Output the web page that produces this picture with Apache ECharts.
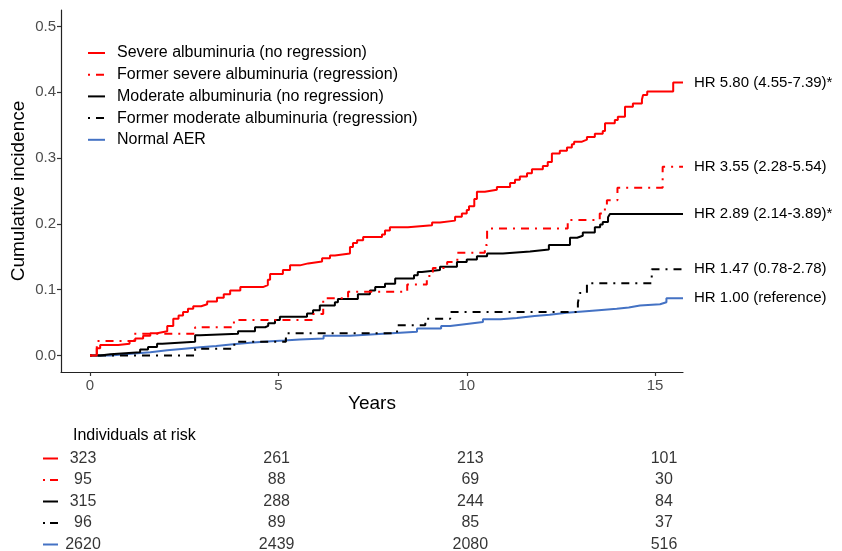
<!DOCTYPE html>
<html><head><meta charset="utf-8">
<script src="https://cdn.jsdelivr.net/npm/echarts@6/dist/echarts.min.js"></script>
<style>html,body{margin:0;padding:0;background:#fff}#c{width:842px;height:551px}</style>
</head><body><div id="c"></div>
<script>
// ---------- data ----------
const seriesNames = [
  'Severe albuminuria (no regression)',
  'Former severe albuminuria (regression)',
  'Moderate albuminuria (no regression)',
  'Former moderate albuminuria (regression)',
  'Normal AER'
];
const hrLabels = [
  'HR 5.80 (4.55-7.39)*',
  'HR 3.55 (2.28-5.54)',
  'HR 2.89 (2.14-3.89)*',
  'HR 1.47 (0.78-2.78)',
  'HR 1.00 (reference)'
];
// [years, cumulative incidence]
const severeNoReg = [[0,0],[0.18,0.011],[0.27,0.016],[0.75,0.018],[1.05,0.022],[1.2,0.026],[1.41,0.03],[1.6,0.034],[1.78,0.037],[2.05,0.045],[2.21,0.056],[2.35,0.061],[2.47,0.066],[2.6,0.071],[2.74,0.075],[2.95,0.078],[3.11,0.082],[3.37,0.088],[3.55,0.093],[3.72,0.099],[3.99,0.104],[4.59,0.107],[4.72,0.115],[4.78,0.124],[5.12,0.13],[5.31,0.137],[5.57,0.14],[5.79,0.143],[6.16,0.148],[6.37,0.152],[6.5,0.155],[6.9,0.165],[6.98,0.171],[7.09,0.175],[7.25,0.18],[7.75,0.184],[7.83,0.19],[7.96,0.195],[8.44,0.198],[9.08,0.202],[9.29,0.205],[9.69,0.211],[9.87,0.216],[10.0,0.221],[10.06,0.227],[10.2,0.238],[10.27,0.249],[10.48,0.252],[10.8,0.256],[11.15,0.262],[11.28,0.267],[11.41,0.272],[11.6,0.277],[11.73,0.283],[12.02,0.288],[12.15,0.294],[12.26,0.307],[12.47,0.311],[12.66,0.316],[12.79,0.321],[12.85,0.325],[13.06,0.328],[13.19,0.332],[13.4,0.337],[13.61,0.341],[13.67,0.353],[13.93,0.358],[14.01,0.363],[14.2,0.378],[14.41,0.383],[14.65,0.389],[14.68,0.396],[14.79,0.401],[15.48,0.415],[15.74,0.415]];
const formerSevere = [[0,0],[0.18,0.022],[1.17,0.033],[2.79,0.043],[3.82,0.054],[5.93,0.063],[6.19,0.087],[6.85,0.097],[8.42,0.108],[8.94,0.121],[9.1,0.133],[9.48,0.142],[9.75,0.156],[10.48,0.168],[10.54,0.193],[12.68,0.206],[13.53,0.216],[13.6,0.222],[13.72,0.236],[14.0,0.255],[15.2,0.287],[15.74,0.287]];
const moderateNoReg = [[0,0],[0.27,0.002],[0.54,0.005],[1.33,0.009],[1.54,0.013],[1.78,0.018],[1.92,0.021],[2.79,0.031],[2.92,0.033],[3.93,0.037],[4.38,0.043],[4.65,0.045],[4.73,0.049],[4.91,0.054],[5.04,0.059],[5.76,0.064],[5.92,0.069],[6.1,0.076],[6.5,0.081],[6.58,0.086],[7.11,0.093],[7.43,0.099],[7.57,0.104],[7.83,0.109],[8.1,0.117],[8.6,0.122],[8.7,0.127],[8.81,0.13],[9.29,0.135],[9.74,0.142],[10.0,0.146],[10.27,0.151],[10.54,0.155],[10.96,0.158],[11.68,0.161],[12.18,0.168],[12.74,0.179],[12.93,0.182],[13.08,0.187],[13.4,0.195],[13.54,0.199],[13.61,0.203],[13.75,0.21],[13.8,0.215],[15.74,0.215]];
const formerModerate = [[0,0],[2.79,0.0104],[3.83,0.021],[5.2,0.034],[8.15,0.046],[8.9,0.056],[9.56,0.066],[12.95,0.08],[13.0,0.095],[13.19,0.11],[14.91,0.131],[15.74,0.131]];
const normalAER = [[0,0],[0.54,0.003],[1.17,0.005],[1.6,0.008],[2.05,0.0105],[2.5,0.0125],[2.92,0.0145],[3.35,0.017],[3.8,0.0196],[4.25,0.0215],[4.7,0.023],[5.15,0.0245],[5.57,0.026],[6.2,0.03],[6.9,0.033],[7.78,0.036],[8.68,0.041],[9.32,0.045],[9.56,0.048],[10.0,0.051],[10.43,0.055],[10.9,0.057],[11.33,0.06],[11.8,0.062],[12.2,0.065],[12.65,0.067],[13.08,0.069],[13.5,0.071],[13.98,0.073],[14.3,0.076],[14.6,0.078],[15.13,0.081],[15.3,0.087],[15.74,0.087]];

const riskTimes = [0, 5, 10, 15];
const riskSevere = [323, 261, 213, 101];
const riskFormerSevere = [95, 88, 69, 30];
const riskModerate = [315, 288, 244, 84];
const riskFormerModerate = [96, 89, 85, 37];
const riskNormal = [2620, 2439, 2080, 516];

const yTicks = [0, 0.1, 0.2, 0.3, 0.4, 0.5];
const xTicks = [0, 5, 10, 15];

// ---------- styling ----------
const FONT = '"Liberation Sans", Arial, sans-serif';
const colors = ['#FF0000', '#FF0000', '#000000', '#000000', '#4472C4'];
const dashDot = [2, 6, 8, 6];
const lineTypes = ['solid', dashDot, 'solid', dashDot, 'solid'];
const curveData = [severeNoReg, formerSevere, moderateNoReg, formerModerate, normalAER];
const riskRows = [riskSevere, riskFormerSevere, riskModerate, riskFormerModerate, riskNormal];

const chart = echarts.init(document.getElementById('c'), null, {renderer: 'canvas'});

const curveSeries = curveData.map((d, i) => ({
  type: 'line', name: seriesNames[i], data: d, step: 'end',
  xAxisIndex: 0, yAxisIndex: 0,
  symbol: 'none', showSymbol: false, silent: true,
  lineStyle: {color: colors[i], width: 2, type: lineTypes[i]},
  itemStyle: {color: colors[i]},
  endLabel: {show: true, formatter: hrLabels[i], color: '#000', fontSize: 15, fontFamily: FONT, distance: 11},
  emphasis: {disabled: true},
  z: 10 - i
}));

const riskSeries = riskRows.map((row, r) => ({
  type: 'scatter', name: 'risk' + r, xAxisIndex: 1, yAxisIndex: 1,
  symbolSize: 0, silent: true,
  data: riskTimes.map((t, k) => [t, r, row[k]]),
  label: {show: true, position: 'inside', formatter: p => String(p.value[2]),
          color: '#000', fontSize: 16, fontFamily: FONT}
}));

const keyG = [];
for (let r = 0; r < 5; r++) {
  keyG.push({type: 'line', shape: {x1: 43, y1: 458.5 + 21.5 * r, x2: 58, y2: 458.5 + 21.5 * r},
    style: {stroke: colors[r], lineWidth: 2, lineDash: lineTypes[r] === 'solid' ? null : [2, 5, 8, 5]}});
}

chart.setOption({
  animation: false,
  backgroundColor: '#fff',
  title: {text: 'Individuals at risk', left: 68, top: 423,
    textStyle: {fontSize: 16, fontWeight: 'normal', color: '#000', fontFamily: FONT}},
  legend: {
    data: seriesNames, orient: 'vertical', left: 82, top: 40,
    itemWidth: 17, itemHeight: 16, itemGap: 5.7,
    itemStyle: {opacity: 0},
    textStyle: {fontSize: 16, color: '#000', fontFamily: FONT, padding: [0, 0, 0, 7]},
    selectedMode: false
  },
  grid: [
    {left: 61, right: 159, top: 10, bottom: 179, containLabel: false, outerBoundsMode: 'none'},
    {left: 83, right: 178, top: 458.5, height: 86, containLabel: false, outerBoundsMode: 'none'}
  ],
  xAxis: [
    {type: 'value', min: -0.77, max: 15.74, gridIndex: 0,
     name: 'Years', nameLocation: 'middle', nameGap: 22, nameMoveOverlap: false,
     nameTextStyle: {fontSize: 19, color: '#000', fontFamily: FONT},
     axisLine: {show: true, onZero: false, lineStyle: {color: '#222', width: 1.2}},
     axisTick: {show: true, length: 4, customValues: xTicks, lineStyle: {color: '#333', width: 1.2}},
     axisLabel: {customValues: xTicks, fontSize: 15, color: '#4d4d4d', fontFamily: FONT, margin: 6},
     splitLine: {show: false}},
    {type: 'value', min: 0, max: 15, gridIndex: 1, show: false}
  ],
  yAxis: [
    {type: 'value', min: -0.025, max: 0.525, gridIndex: 0,
     name: 'Cumulative incidence', nameLocation: 'middle', nameGap: 33, nameMoveOverlap: false,
     nameTextStyle: {fontSize: 19, color: '#000', fontFamily: FONT},
     axisLine: {show: true, onZero: false, lineStyle: {color: '#222', width: 1.2}},
     axisTick: {show: true, length: 4, customValues: yTicks, lineStyle: {color: '#333', width: 1.2}},
     axisLabel: {customValues: yTicks, formatter: v => v.toFixed(1), fontSize: 15, color: '#4d4d4d', fontFamily: FONT, margin: 5},
     splitLine: {show: false}},
    {type: 'value', min: 0, max: 4, inverse: true, gridIndex: 1, show: false}
  ],
  graphic: keyG,
  series: curveSeries.concat(riskSeries)
});
</script></body></html>
